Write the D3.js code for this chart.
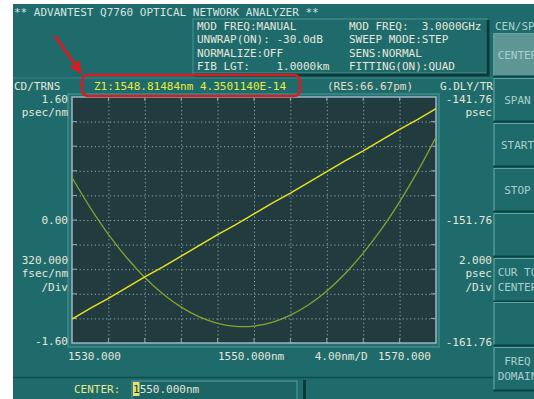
<!DOCTYPE html>
<html><head><meta charset="utf-8">
<script src="https://cdn.jsdelivr.net/npm/d3@7"></script>
<style>
html,body{margin:0;padding:0;background:#fff;}
svg{display:block;}
text{font-family:"DejaVu Sans Mono","Liberation Mono",monospace;font-size:11px;white-space:pre;}
</style></head>
<body>
<svg id="c" width="534" height="399"></svg>
<script>
// ---- data ----
const wavelengths = [1530,1532,1534,1536,1538,1540,1542,1544,1546,1548,1550,1552,1554,1556,1558,1560,1562,1564,1566,1568,1570];
const dispersion = [-1.29,-1.15,-1.02,-0.88,-0.74,-0.61,-0.47,-0.33,-0.19,-0.06,0.08,0.22,0.35,0.49,0.63,0.77,0.90,1.04,1.18,1.31,1.45];
const groupDelay = [-148.31,-150.75,-152.92,-154.81,-156.43,-157.77,-158.84,-159.64,-160.16,-160.41,-160.38,-160.08,-159.50,-158.65,-157.53,-156.13,-154.45,-152.51,-150.28,-147.79,-145.02];
const xDomain = [1530, 1570];
const cdDomain = [-1.60, 1.60];
const gdDomain = [-161.76, -141.76];
const xTickStep = 4;
const cdTickStep = 0.32;
const titleText = "** ADVANTEST Q7760 OPTICAL NETWORK ANALYZER **";
const infoLeft = ["MOD FREQ:MANUAL","UNWRAP(ON): -30.0dB","NORMALIZE:OFF","FIB LGT:    1.0000km"];
const infoRight = ["MOD FREQ:  3.0000GHz","SWEEP MODE:STEP","SENS:NORMAL","FITTING(ON):QUAD"];
const markerText = "Z1:1548.81484nm 4.3501140E-14";
const resText = "(RES:66.67pm)";
const leftLabels = ["1.60","psec/nm","0.00","320.000","fsec/nm","/Div","-1.60"];
const rightLabels = ["-141.76","psec","-151.76","2.000","psec","/Div","-161.76"];
const xLabels = ["1530.000","1550.000nm","4.00nm/D","1570.000"];
const buttons = [["CENTER"],["SPAN"],["START"],["STOP"],[],["CUR TO","CENTER"],[],["FREQ","DOMAIN"]];

// ---- drawing ----
const svg = d3.select("#c");
const TEAL = "#1f6b6b", PLOTBG = "#223b3e", LIGHT = "#e4e6dc", BTN = "#a9cfcf";
const L = 72, R = 436, T = 97, B = 343;

svg.append("rect").attr("x",13).attr("y",4).attr("width",521).attr("height",395).attr("fill",TEAL);

// title
svg.append("text").attr("x",14).attr("y",16).attr("fill","#d6e4e2").text(titleText);

// info box
svg.append("rect").attr("x",193).attr("y",19).attr("width",294).attr("height",54).attr("fill",TEAL)
  .attr("stroke","#4e9494").attr("stroke-width",1);
svg.append("path").attr("d","M488,20 V75 H194").attr("fill","none").attr("stroke","#0b3a3a").attr("stroke-width",3);
infoLeft.forEach((t,i)=>svg.append("text").attr("x",197).attr("y",30+i*13.4).attr("fill",LIGHT).text(t));
infoRight.forEach((t,i)=>svg.append("text").attr("x",349).attr("y",30+i*13.4).attr("fill",LIGHT).text(t));

// button panel (clipped at the right edge, as in the reference)
const pclip = svg.append("clipPath").attr("id","panel").append("rect").attr("x",490).attr("y",0).attr("width",44).attr("height",399);
const panel = svg.append("g").attr("clip-path","url(#panel)");
panel.append("text").attr("x",495).attr("y",30).attr("fill",BTN).text("CEN/SPAN");

// header line
svg.append("line").attr("x1",13).attr("x2",493).attr("y1",78).attr("y2",78).attr("stroke","#3c8585").attr("stroke-width",1);
svg.append("text").attr("x",14).attr("y",90).attr("fill",LIGHT).text("CD/TRNS");
svg.append("text").attr("x",94).attr("y",90).attr("fill","#ecea3a").text(markerText);
svg.append("text").attr("x",327).attr("y",90).attr("fill","#e4dcc4").text(resText);
svg.append("text").attr("x",440).attr("y",90).attr("fill",LIGHT).text("G.DLY/TR");

const btnTops = [33,78,123,168,213,258,302,347];
btnTops.forEach((y,i)=>{
  const h = 43;
  panel.append("rect").attr("x",493).attr("y",y).attr("width",50).attr("height",h)
    .attr("fill", i===0 ? "#5e9696" : TEAL);
  panel.append("path").attr("d",`M494,${y+h} V${y+0.5} H543`).attr("fill","none").attr("stroke","#5ea4a4").attr("stroke-width",1.2);
  panel.append("path").attr("d",`M493.5,${y+h+0.5} H543`).attr("fill","none").attr("stroke","#0b4040").attr("stroke-width",2);
  const lines = buttons[i];
  lines.forEach((t,j)=>{
    const cy = y + h/2 + (j - (lines.length-1)/2)*14.5;
    panel.append("text").attr("x",517.5).attr("y",cy+4).attr("text-anchor","middle").attr("fill",BTN).text(t);
  });
});

// plot frames
svg.append("rect").attr("x",68).attr("y",94).attr("width",371).attr("height",253).attr("fill","#256f70")
  .attr("stroke","#3f8c8c").attr("stroke-width",1.5);
svg.append("rect").attr("x",L).attr("y",T).attr("width",R-L).attr("height",B-T).attr("fill",PLOTBG);

const x = d3.scaleLinear().domain(xDomain).range([L,R]);
const yL = d3.scaleLinear().domain(cdDomain).range([B,T]);
const yR = d3.scaleLinear().domain(gdDomain).range([B,T]);

const xTicks = d3.range(xDomain[0], xDomain[1]+0.001, xTickStep);
const yTicks = d3.range(0, 11).map(i => cdDomain[0] + i*cdTickStep);

const GRID = "#8ca7b6";
svg.append("g").attr("transform",`translate(0,${B})`)
  .call(d3.axisBottom(x).tickValues(xTicks.slice(1,-1)).tickSize(-(B-T)).tickFormat(""))
  .call(g=>{g.select(".domain").remove(); g.selectAll("line").attr("stroke",GRID).attr("stroke-dasharray","1.2,2.6");});
svg.append("g").attr("transform",`translate(${L},0)`)
  .call(d3.axisLeft(yL).tickValues(yTicks.slice(1,-1)).tickSize(-(R-L)).tickFormat(""))
  .call(g=>{g.select(".domain").remove(); g.selectAll("line").attr("stroke",GRID).attr("stroke-dasharray","1.2,2.6");});
const tk = svg.append("g").attr("stroke",GRID).attr("stroke-width",1);
xTicks.slice(1,-1).forEach(v=>{
  tk.append("line").attr("x1",x(v)).attr("x2",x(v)).attr("y1",B).attr("y2",B-5);
  tk.append("line").attr("x1",x(v)).attr("x2",x(v)).attr("y1",T).attr("y2",T+4);
});
yTicks.slice(1,-1).forEach(v=>{
  tk.append("line").attr("y1",yL(v)).attr("y2",yL(v)).attr("x1",L).attr("x2",L+5);
  tk.append("line").attr("y1",yL(v)).attr("y2",yL(v)).attr("x1",R).attr("x2",R-5);
});
svg.append("rect").attr("x",L).attr("y",T).attr("width",R-L).attr("height",B-T).attr("fill","none")
  .attr("stroke","#9ab6c4").attr("stroke-width",1.5);

// traces
svg.append("clipPath").attr("id","pc").append("rect").attr("x",L).attr("y",T).attr("width",R-L).attr("height",B-T);
const gdLine = d3.line().x((d,i)=>x(wavelengths[i])).y(d=>yR(d)).curve(d3.curveCatmullRom);
svg.append("path").attr("clip-path","url(#pc)").attr("d",gdLine(groupDelay)).attr("fill","none").attr("stroke","#86a232").attr("stroke-width",1.3);
const cdLine = d3.line().x((d,i)=>x(wavelengths[i])).y(d=>yL(d));
svg.append("path").attr("clip-path","url(#pc)").attr("d",cdLine(dispersion)).attr("fill","none").attr("stroke","#e8e020").attr("stroke-width",1.5);

// left axis labels
const lp = [yL(1.6)+6, yL(1.6)+19, yL(0)+4, yL(-0.52)+4, yL(-0.52)+17.5, yL(-0.52)+31, yL(-1.6)+2];
leftLabels.forEach((t,i)=>svg.append("text").attr("x",68).attr("y",lp[i]).attr("text-anchor","end").attr("fill",LIGHT).text(t));
const rp = [yR(-141.76)+6, yR(-141.76)+19, yR(-151.76)+4, yR(-155)+4, yR(-155)+17.5, yR(-155)+31, yR(-161.76)+3];
rightLabels.forEach((t,i)=>svg.append("text").attr("x",492).attr("y",rp[i]).attr("text-anchor","end").attr("fill",LIGHT).text(t));

// x labels
const xp = [x(1530)-4, x(1550)-36, x(1557)-3, x(1570)-58];
xLabels.forEach((t,i)=>svg.append("text").attr("x",xp[i]).attr("y",360).attr("fill",LIGHT).text(t));

// bottom bar
svg.append("line").attr("x1",13).attr("x2",493).attr("y1",377.5).attr("y2",377.5).attr("stroke","#0f4c4c").attr("stroke-width",1.5);
svg.append("text").attr("x",74).attr("y",393).attr("fill","#e6e68a").text("CENTER:");
svg.append("rect").attr("x",132).attr("y",381).attr("width",165).attr("height",20).attr("fill","#1c6464").attr("stroke","#5a9e9e").attr("stroke-width",1);
svg.append("rect").attr("x",133).attr("y",382).attr("width",6.5).attr("height",14).attr("fill","#e8e070");
svg.append("text").attr("x",133).attr("y",393).attr("fill",LIGHT)
  .call(t=>{t.append("tspan").attr("fill","#1a3a3a").text("1"); t.append("tspan").text("550.000nm");});
svg.append("rect").attr("x",303).attr("y",380).attr("width",3).attr("height",19).attr("fill","#0b3a3a");

// red annotation
svg.append("rect").attr("x",82).attr("y",75).attr("width",218).attr("height",21).attr("rx",6).attr("fill","none")
  .attr("stroke","#d41e24").attr("stroke-width",2.6);
const defs = svg.append("defs");
defs.append("marker").attr("id","ah").attr("viewBox","0 0 10 10").attr("refX",9).attr("refY",5)
  .attr("markerWidth",4.2).attr("markerHeight",4.2).attr("orient","auto")
  .append("path").attr("d","M0,0 L10,5 L0,10 z").attr("fill","#d41e24");
svg.append("line").attr("x1",55).attr("y1",36).attr("x2",81).attr("y2",73).attr("stroke","#d41e24").attr("stroke-width",3).attr("marker-end","url(#ah)");
</script>
</body></html>
